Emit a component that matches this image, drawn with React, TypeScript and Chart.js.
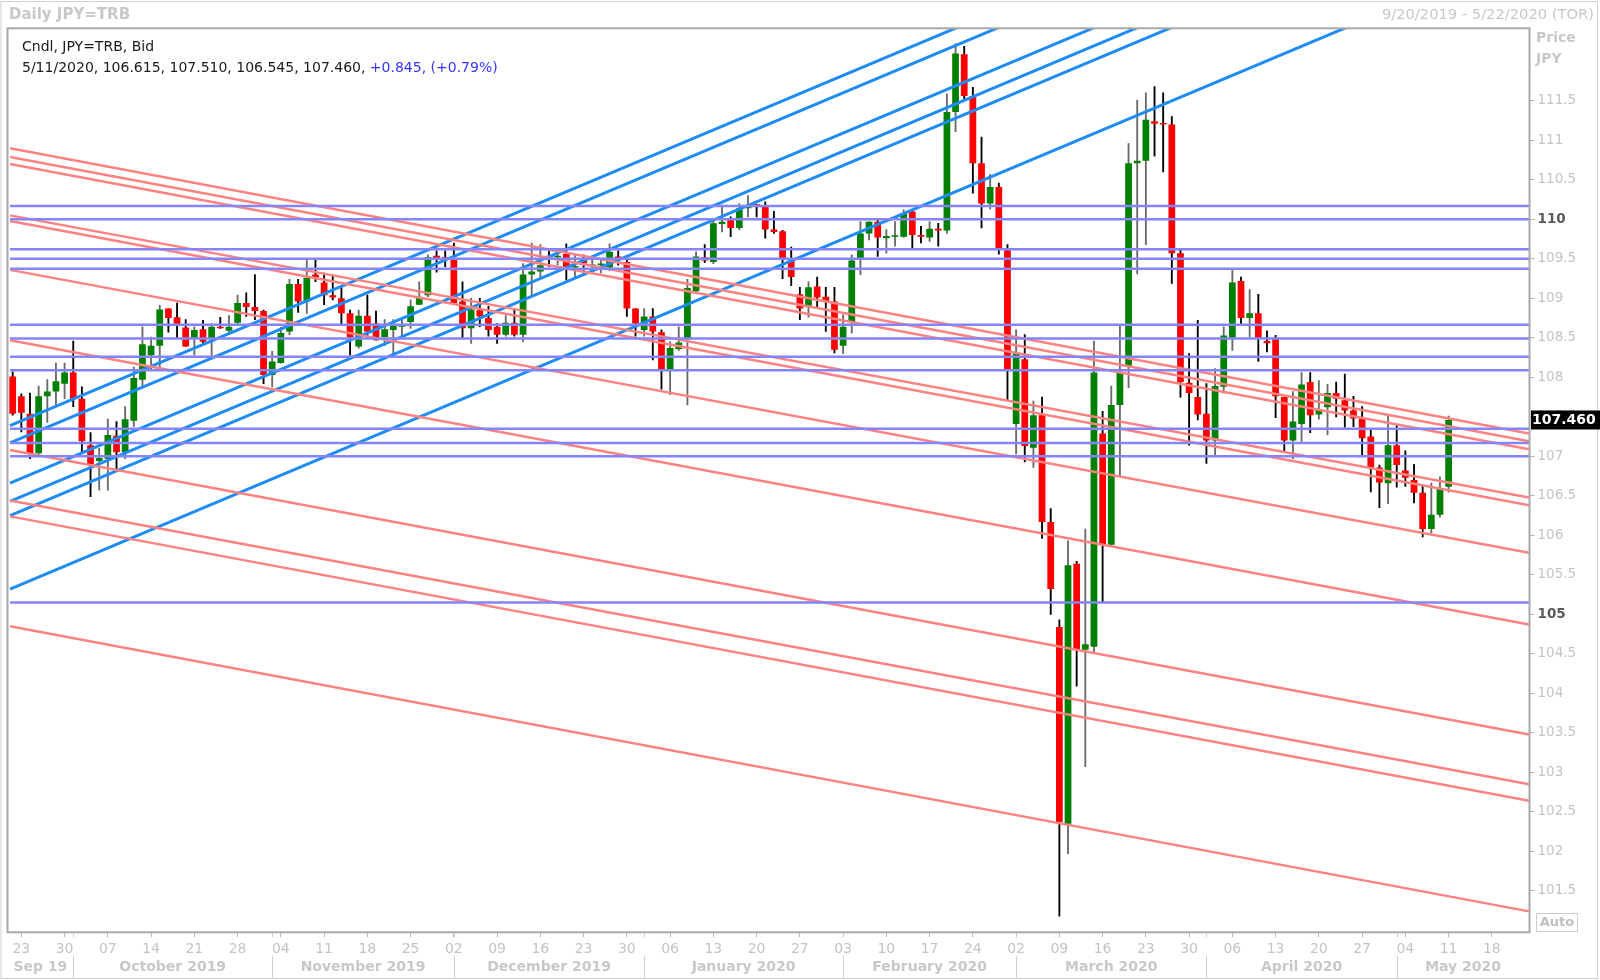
import React, { useEffect, useRef } from 'react';
import { Chart, registerables } from 'chart.js';

Chart.register(...registerables);

const FONT = 'DejaVu Sans';

// ---- OHLC (daily, index 0 = 9/20/2019) ----
const opens = [
  108.01, 107.76, 107.54, 107.04, 107.76, 107.82, 107.92, 108.06, 107.73, 107.14,
  106.94, 106.97, 107.26, 107.05, 107.45, 107.97, 108.28, 108.40, 108.87, 108.76,
  108.63, 108.49, 108.61, 108.49, 108.64, 108.59, 108.69, 108.94, 108.89, 108.84,
  108.03, 108.18, 108.58, 109.18, 108.96, 109.30, 109.20, 109.04, 109.00, 108.81,
  108.39, 108.78, 108.68, 108.51, 108.60, 108.64, 108.70, 108.92, 109.04, 109.54,
  109.52, 109.49, 108.96, 108.62, 108.85, 108.75, 108.64, 108.54, 108.69, 108.54,
  109.30, 109.34, 109.54, 109.52, 109.56, 109.39, 109.49, 109.41, 109.42, 109.39,
  109.53, 109.46, 108.87, 108.60, 108.77, 108.57, 108.10, 108.36, 108.49, 109.09,
  109.52, 109.46, 109.94, 109.99, 109.89, 110.14, 110.19, 110.18, 109.87, 109.85,
  109.48, 109.05, 108.90, 109.15, 109.02, 108.96, 108.40, 108.70, 109.51, 109.82,
  109.97, 109.76, 109.78, 109.78, 110.10, 109.80, 109.77, 109.88, 109.86, 111.36,
  112.09, 111.56, 110.71, 110.20, 110.41, 109.61, 107.41, 108.23, 107.11, 107.52,
  106.17, 104.84, 102.35, 105.64, 104.55, 104.59, 107.29, 105.88, 107.65, 108.13,
  110.71, 110.74, 111.24, 111.22, 111.20, 109.57, 107.93, 107.75, 107.54, 107.20,
  107.88, 108.50, 109.22, 108.75, 108.81, 108.46, 108.50, 107.75, 107.20, 107.41,
  107.94, 107.53, 107.62, 107.80, 107.71, 107.58, 107.48, 107.25, 106.86, 106.66,
  107.14, 106.82, 106.70, 106.54, 106.08, 106.26, 106.615,
];
const highs = [
  108.07, 107.79, 107.80, 107.89, 107.97, 108.18, 108.18, 108.46, 107.88, 107.30,
  107.10, 107.47, 107.44, 107.63, 108.13, 108.64, 108.51, 108.91, 108.87, 108.94,
  108.73, 108.64, 108.72, 108.68, 108.76, 108.78, 109.04, 109.07, 109.30, 108.85,
  108.33, 108.63, 109.24, 109.24, 109.48, 109.48, 109.32, 109.30, 109.15, 108.85,
  108.85, 109.04, 108.84, 108.73, 108.73, 108.73, 108.98, 109.21, 109.55, 109.60,
  109.60, 109.70, 109.21, 109.00, 109.00, 108.90, 108.68, 108.78, 108.85, 109.44,
  109.70, 109.68, 109.60, 109.61, 109.69, 109.56, 109.55, 109.49, 109.49, 109.69,
  109.60, 109.49, 108.87, 108.87, 108.87, 108.60, 108.45, 108.64, 109.24, 109.59,
  109.68, 110.01, 110.18, 110.03, 110.20, 110.30, 110.19, 110.22, 110.10, 109.86,
  109.65, 109.14, 109.21, 109.27, 109.14, 109.14, 108.79, 109.55, 109.97, 109.97,
  110.01, 109.87, 109.97, 110.12, 110.10, 109.91, 109.97, 109.95, 111.59, 112.22,
  112.19, 111.67, 111.04, 110.57, 110.46, 109.68, 108.60, 108.54, 107.70, 107.75,
  106.34, 104.93, 105.93, 105.67, 106.08, 108.46, 107.57, 107.89, 108.65, 110.96,
  111.51, 111.60, 111.68, 111.60, 111.30, 109.61, 108.30, 108.72, 107.92, 108.11,
  108.64, 109.36, 109.27, 109.11, 109.05, 108.59, 108.53, 107.75, 107.82, 108.06,
  108.06, 107.96, 107.91, 107.94, 108.04, 107.76, 107.63, 107.33, 106.89, 107.51,
  107.40, 107.07, 106.90, 106.62, 106.66, 106.74, 107.51,
];
const lows = [
  107.52, 107.31, 106.97, 107.00, 107.43, 107.65, 107.73, 107.63, 107.04, 106.49,
  106.57, 106.57, 106.84, 106.97, 107.38, 107.86, 108.10, 108.13, 108.57, 108.49,
  108.39, 108.28, 108.43, 108.26, 108.62, 108.57, 108.68, 108.77, 108.73, 107.92,
  107.88, 108.18, 108.54, 108.82, 108.81, 109.21, 108.92, 108.98, 108.68, 108.28,
  108.37, 108.51, 108.47, 108.40, 108.30, 108.52, 108.62, 108.92, 109.02, 109.33,
  109.40, 108.92, 108.49, 108.43, 108.64, 108.52, 108.43, 108.52, 108.52, 108.45,
  109.04, 109.25, 109.40, 109.42, 109.23, 109.27, 109.32, 109.32, 109.32, 109.35,
  109.42, 108.77, 108.52, 108.52, 108.22, 107.85, 107.78, 108.34, 107.65, 109.06,
  109.45, 109.44, 109.84, 109.78, 109.87, 110.03, 110.03, 109.76, 109.82, 109.25,
  109.16, 108.73, 108.76, 108.87, 108.58, 108.31, 108.30, 108.56, 109.30, 109.74,
  109.53, 109.57, 109.66, 109.77, 109.63, 109.70, 109.72, 109.66, 109.82, 111.11,
  111.51, 110.33, 109.89, 110.13, 109.56, 107.72, 107.03, 106.93, 106.86, 105.96,
  105.00, 101.18, 101.97, 104.09, 103.07, 104.52, 105.16, 105.88, 106.75, 107.87,
  109.31, 109.68, 110.80, 110.60, 109.19, 107.75, 107.14, 107.46, 106.91, 107.02,
  107.80, 108.34, 108.68, 108.51, 108.20, 108.32, 107.49, 107.06, 106.97, 107.19,
  107.30, 107.47, 107.27, 107.50, 107.37, 107.375, 107.02, 106.55, 106.35, 106.40,
  106.61, 106.62, 106.41, 105.98, 106.03, 106.23, 106.545,
];
const closes = [
  107.54, 107.55, 107.04, 107.76, 107.82, 107.95, 108.06, 107.73, 107.19, 106.90,
  106.98, 107.27, 107.05, 107.47, 107.99, 108.42, 108.40, 108.86, 108.75, 108.67,
  108.39, 108.60, 108.45, 108.64, 108.62, 108.64, 108.94, 108.89, 108.84, 108.03,
  108.20, 108.56, 109.18, 108.96, 109.26, 109.26, 109.04, 109.01, 108.81, 108.51,
  108.78, 108.58, 108.47, 108.61, 108.66, 108.65, 108.90, 109.02, 109.52, 109.49,
  109.49, 108.94, 108.62, 108.86, 108.77, 108.60, 108.54, 108.69, 108.54, 109.30,
  109.34, 109.42, 109.49, 109.54, 109.39, 109.41, 109.44, 109.42, 109.44, 109.59,
  109.49, 108.87, 108.68, 108.77, 108.58, 108.10, 108.37, 108.44, 109.13, 109.53,
  109.48, 109.95, 109.97, 109.89, 110.14, 110.18, 110.17, 109.87, 109.84, 109.51,
  109.27, 108.87, 109.14, 109.01, 108.96, 108.35, 108.64, 109.48, 109.82, 109.97,
  109.77, 109.79, 109.79, 110.08, 109.80, 109.78, 109.88, 109.86, 111.36, 112.10,
  111.56, 110.71, 110.20, 110.41, 109.63, 108.09, 108.30, 107.13, 107.52, 106.17,
  105.32, 102.37, 105.62, 104.55, 104.62, 108.06, 105.89, 107.65, 108.06, 110.71,
  110.74, 111.26, 111.21, 111.20, 109.57, 107.94, 107.80, 107.53, 107.20, 107.89,
  108.53, 109.20, 108.75, 108.81, 108.50, 108.43, 107.76, 107.20, 107.44, 107.91,
  107.52, 107.59, 107.80, 107.73, 107.58, 107.48, 107.23, 106.86, 106.67, 107.14,
  106.89, 106.73, 106.54, 106.08, 106.26, 106.60, 107.46,
];

// ---- drawn lines (values at the left and right plot edges) ----
const LINE_X0 = -0.31;
const LINE_X1 = 175.29;
const redStart = [110.90, 110.79, 110.70, 110.05, 109.98, 109.36, 108.47, 107.08, 106.44, 106.24, 104.85];
const redEnd = [107.29, 107.19, 107.09, 106.48, 106.38, 105.78, 104.87, 103.48, 102.85, 102.64, 101.24];
const blueStart = [107.39, 107.17, 106.66, 106.43, 106.25, 105.32];
const blueEnd = [115.47, 115.25, 114.74, 114.51, 114.33, 113.40];
const levels = [110.17, 110.0, 109.62, 109.5, 109.375, 108.665, 108.49, 108.26, 108.09, 107.35, 107.17, 107.0, 105.15];

const yTicks = [101.5, 102, 102.5, 103, 103.5, 104, 104.5, 105, 105.5, 106, 106.5, 107, 107.5, 108, 108.5, 109, 109.5, 110, 110.5, 111, 111.5];
const monthLabels = ['Sep 19', 'October 2019', 'November 2019', 'December 2019', 'January 2020', 'February 2020', 'March 2020', 'April 2020', 'May 2020'];

const X_MIN = -0.601;
const X_MAX = 175.35;
const Y_MIN = 100.975;
const Y_MAX = 112.418;

// trading days (weekdays) 9/20/2019 .. 5/22/2020
const DAYS: Date[] = [];
for (let t = Date.UTC(2019, 8, 20); t <= Date.UTC(2020, 4, 22); t += 86400000) {
  const d = new Date(t);
  const w = d.getUTCDay();
  if (w !== 0 && w !== 6) DAYS.push(d);
}
const mondayIdx: number[] = [];
const monthStartIdx: number[] = [];
DAYS.forEach((d, i) => {
  if (d.getUTCDay() === 1) mondayIdx.push(i);
  if (i > 0 && d.getUTCMonth() !== DAYS[i - 1].getUTCMonth()) monthStartIdx.push(i);
});
const pad2 = (n: number) => (n < 10 ? '0' + n : String(n));

const overlay = {
  id: 'overlay',
  afterDraw(chart: any) {
    const ctx = chart.ctx as CanvasRenderingContext2D;
    const { left, right, top, bottom } = chart.chartArea;
    const xs = chart.scales.x;
    const ys = chart.scales.y;
    ctx.save();
    // outer frame
    ctx.strokeStyle = '#cfcfcf';
    ctx.lineWidth = 1;
    ctx.strokeRect(1, 1.5, 1596.5, 977);
    // plot border
    ctx.strokeStyle = '#a8a8a8';
    ctx.lineWidth = 2;
    ctx.strokeRect(left, top, right - left, bottom - top);

    // header
    ctx.textBaseline = 'middle';
    ctx.fillStyle = '#c8c8c8';
    ctx.font = `bold 15px ${FONT}`;
    ctx.textAlign = 'left';
    ctx.fillText('Daily JPY=TRB', 9, 15);
    ctx.font = `14.7px ${FONT}`;
    ctx.textAlign = 'right';
    ctx.fillText('9/20/2019 - 5/22/2020 (TOR)', 1594, 15);

    // legend
    ctx.textAlign = 'left';
    ctx.font = `14px ${FONT}`;
    ctx.fillStyle = '#1a1a1a';
    ctx.fillText('Cndl, JPY=TRB, Bid', 22, 47);
    const n = closes.length - 1;
    const part1 = `5/11/2020, ${opens[n].toFixed(3)}, ${highs[n].toFixed(3)}, ${lows[n].toFixed(3)}, ${closes[n].toFixed(3)}, `;
    ctx.fillText(part1, 22, 68.5);
    const w1 = ctx.measureText(part1).width;
    ctx.fillStyle = '#3535ff';
    ctx.fillText('+0.845, (+0.79%)', 22 + w1, 68.5);

    // axis header
    ctx.font = `bold 14px ${FONT}`;
    ctx.fillStyle = '#c8c8c8';
    ctx.fillText('Price', 1536, 38);
    ctx.fillText('JPY', 1536, 59);

    // last price box
    const py = ys.getPixelForValue(closes[n]);
    ctx.fillStyle = '#000';
    ctx.fillRect(right + 1.5, py - 9.5, 1600 - right, 19);
    ctx.fillStyle = '#fff';
    ctx.font = `bold 14px ${FONT}`;
    ctx.fillText(closes[n].toFixed(3), right + 2.5, py + 0.5);

    // Auto box
    ctx.strokeStyle = '#cccccc';
    ctx.lineWidth = 1;
    ctx.strokeRect(1536.5, 913.5, 41, 18);
    ctx.fillStyle = '#c0c0c0';
    ctx.textAlign = 'center';
    ctx.font = `bold 13px ${FONT}`;
    ctx.fillText('Auto', 1557, 923);

    // month separators and labels
    const seps = monthStartIdx.map((i) => xs.getPixelForValue(i));
    ctx.strokeStyle = '#cfcfcf';
    ctx.lineWidth = 1;
    seps.forEach((x: number) => {
      ctx.beginPath();
      ctx.moveTo(Math.round(x) + 0.5, bottom + 1);
      ctx.lineTo(Math.round(x) + 0.5, bottom + 5);
      ctx.moveTo(Math.round(x) + 0.5, 956);
      ctx.lineTo(Math.round(x) + 0.5, 978);
      ctx.stroke();
    });
    const bounds = [left, ...seps, right];
    ctx.font = `bold 14px ${FONT}`;
    ctx.fillStyle = '#c8c8c8';
    monthLabels.forEach((m, k) => {
      if (k + 1 < bounds.length) ctx.fillText(m, (bounds[k] + bounds[k + 1]) / 2, 967.5);
    });
    ctx.restore();
  },
};

export default function App() {
  const ref = useRef<HTMLCanvasElement>(null);

  useEffect(() => {
    if (!ref.current) return;
    Chart.defaults.font.family = FONT;
    const idx = opens.map((_, i) => i);
    const up = idx.map((i) => closes[i] >= opens[i]);

    const lineDs = (a: number, b: number, color: string, width: number) => ({
      type: 'line' as const,
      data: [{ x: LINE_X0, y: a }, { x: LINE_X1, y: b }],
      borderColor: color,
      borderWidth: width,
      pointRadius: 0,
      fill: false,
      tension: 0,
      clip: 0,
      order: 0,
    });

    const datasets: any[] = [
      ...levels.map((v) => lineDs(v, v, '#8484ff', 2.5)),
      ...redStart.map((v, k) => lineDs(v, redEnd[k], '#ff8282', 2.5)),
      ...blueStart.map((v, k) => lineDs(v, blueEnd[k], '#1f8cf5', 3)),
      {
        type: 'bar',
        data: idx.map((i) => ({ x: i, y: [opens[i], closes[i]] })),
        backgroundColor: up.map((u) => (u ? '#008000' : '#ff0000')),
        grouped: false,
        categoryPercentage: 1,
        barPercentage: 0.78,
        minBarLength: 1.5,
        order: 1,
      },
      {
        type: 'bar',
        data: idx.map((i) => ({ x: i, y: [lows[i], highs[i]] })),
        backgroundColor: up.map((u) => (u ? '#6a6a6a' : '#000000')),
        grouped: false,
        categoryPercentage: 1,
        barPercentage: 1,
        maxBarThickness: 1.2,
        order: 2,
      },
    ];

    const chart = new Chart(ref.current, {
      type: 'bar',
      data: { datasets },
      options: {
        responsive: false,
        devicePixelRatio: 1,
        animation: false,
        events: [],
        layout: { padding: { left: 7.5, top: 28.3, right: 0, bottom: 0 } },
        plugins: { legend: { display: false }, tooltip: { enabled: false }, title: { display: false } },
        scales: {
          x: {
            type: 'linear',
            min: X_MIN,
            max: X_MAX,
            offset: false,
            border: { display: false },
            grid: { drawOnChartArea: false, drawTicks: true, tickLength: 5, color: '#bdbdbd', offset: false },
            afterBuildTicks: (s: any) => {
              s.ticks = mondayIdx.map((v) => ({ value: v }));
            },
            afterFit: (s: any) => {
              s.height = 980 - 932.3;
            },
            ticks: {
              autoSkip: false,
              maxRotation: 0,
              minRotation: 0,
              padding: 3.5,
              color: '#c4c4c4',
              font: { family: FONT, size: 14 },
              callback: (v: any) => {
                const d = DAYS[Math.round(Number(v))];
                return d ? pad2(d.getUTCDate()) : '';
              },
            },
          },
          y: {
            type: 'linear',
            position: 'right',
            min: Y_MIN,
            max: Y_MAX,
            beginAtZero: false,
            border: { display: false },
            grid: { drawOnChartArea: false, drawTicks: true, tickLength: 5, color: '#b5b5b5' },
            afterBuildTicks: (s: any) => {
              s.ticks = yTicks.map((v) => ({ value: v }));
            },
            afterFit: (s: any) => {
              s.width = 1600 - 1529.5;
            },
            ticks: {
              padding: 3,
              color: (c: any) => (c.tick && (c.tick.value === 110 || c.tick.value === 105) ? '#5a5a5a' : '#c4c4c4'),
              font: (c: any) => ({
                family: FONT,
                size: 13.5,
                weight: c.tick && (c.tick.value === 110 || c.tick.value === 105) ? 'bold' : 'normal',
              }),
              callback: (v: any) => {
                const n = Number(v);
                return Number.isInteger(n) ? String(n) : n.toFixed(1);
              },
            },
          },
        },
      },
      plugins: [overlay],
    } as any);
    return () => chart.destroy();
  }, []);

  return (
    <div style={{ position: 'fixed', left: 0, top: 0, width: 1600, height: 980, background: '#ffffff' }}>
      <canvas ref={ref} width={1600} height={980} style={{ display: 'block', width: 1600, height: 980 }} />
    </div>
  );
}
